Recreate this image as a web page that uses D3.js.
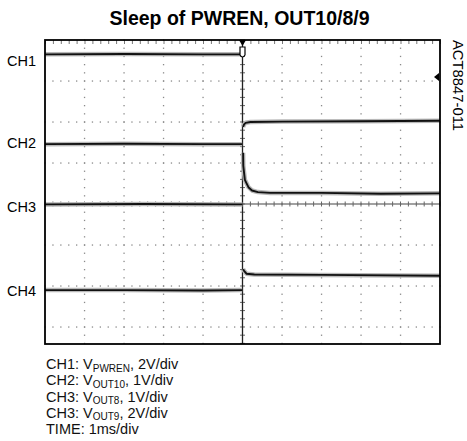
<!DOCTYPE html>
<html>
<head>
<meta charset="utf-8">
<script src="https://cdn.jsdelivr.net/npm/d3@7/dist/d3.min.js"></script>
<style>
body{ margin:0; background:#fff; }
svg{ display:block; font-family:"Liberation Sans", Arial, sans-serif; }
</style>
</head>
<body>
<div id="scope"></div>
<script>
// all values are in scope divisions: time 0..10, volts with 0 on the centre line
const title = "Sleep of PWREN, OUT10/8/9";
const partNumber = "ACT8847-011";

const timeDivs = [0, 1, 2, 3, 4, 5, 6, 7, 8, 9, 10];
const voltDivs = [4, 3, 2, 1, 0, -1, -2, -3];

const channelNames = ["CH1", "CH2", "CH3", "CH4"];
const channelLevels = [3.5, 1.49, -0.07, -2.11];

// traces, null = fast edge the scope does not show
const ch1 = [[0, 3.65], [2, 3.66], [4, 3.65], [4.99, 3.65], [5.0, null], [5.015, 1.88], [5.04, 1.94], [5.08, 1.98], [5.2, 2.0], [6, 2.01], [8, 2.02], [10, 2.03]];
const ch2 = [[0, 1.46], [2, 1.47], [4, 1.46], [4.99, 1.46], [5.0, null], [5.015, 1.25], [5.02, 0.93], [5.06, 0.59], [5.15, 0.41], [5.24, 0.33], [5.39, 0.29], [5.7, 0.27], [7, 0.27], [8.5, 0.25], [10, 0.26]];
const ch3 = [[0, -0.01], [2.5, 0.0], [5.0, -0.01]];
const ch4 = [[0, -2.1], [2, -2.1], [4, -2.11], [4.99, -2.1], [5.0, null], [5.015, -1.59], [5.04, -1.63], [5.1, -1.7], [5.3, -1.72], [7, -1.73], [10, -1.75]];
const traces = [ch1, ch2, ch3, ch4];

const triggerTime = 5;
const triggerLevel = 3.1;

const legendLines = [
    ["CH1: V", "PWREN", ", 2V/div"],
    ["CH2: V", "OUT10", ", 1V/div"],
    ["CH3: V", "OUT8", ", 1V/div"],
    ["CH3: V", "OUT9", ", 2V/div"],
    ["TIME: 1ms/div", "", ""]
];

const width = 467, height = 441;

const svg = d3.select("#scope").append("svg")
    .attr("width", width)
    .attr("height", height);

const x = d3.scaleLinear().domain([0, 10]).range([45, 440]);
const y = d3.scaleLinear().domain([4, -3.415]).range([40, 344]);

const minorT = d3.range(0, 10.001, 0.2);
const minorV = d3.range(4, -3.42, -0.2);

// title
svg.append("text")
    .attr("x", 239.5)
    .attr("y", 25)
    .attr("text-anchor", "middle")
    .attr("font-size", 19.5)
    .attr("font-weight", "bold")
    .text(title);

// part number on the right
svg.append("text")
    .attr("transform", "translate(453,40) rotate(90)")
    .attr("font-size", 14.8)
    .text(partNumber);

// dotted grid
const grid = svg.append("g");

voltDivs.filter(v => v !== 4 && v !== 0).forEach(v => {
    grid.selectAll(null)
        .data(minorT)
        .enter().append("rect")
        .attr("x", t => x(t) - 0.6)
        .attr("y", y(v) - 0.6)
        .attr("width", 1.3)
        .attr("height", 1.3)
        .attr("fill", "#8a8a8a");
});

timeDivs.filter(t => t !== 0 && t !== 5 && t !== 10).forEach(t => {
    grid.selectAll(null)
        .data(minorV)
        .enter().append("rect")
        .attr("x", x(t) - 0.6)
        .attr("y", v => y(v) - 0.6)
        .attr("width", 1.3)
        .attr("height", 1.3)
        .attr("fill", "#8a8a8a");
});

// ticks under the top edge
svg.append("g")
    .attr("transform", "translate(0," + y(4) + ")")
    .call(d3.axisBottom(x).tickValues(minorT).tickSize(4).tickFormat(""))
    .call(g => g.select(".domain").remove())
    .call(g => g.selectAll("line").attr("stroke", "#777"));

// centre axes with small ticks
const centre = svg.append("g");

centre.append("line")
    .attr("x1", x(0)).attr("x2", x(10))
    .attr("y1", y(0)).attr("y2", y(0))
    .attr("stroke", "#444").attr("stroke-width", 1.1);

centre.selectAll(".htick")
    .data(minorT)
    .enter().append("line")
    .attr("class", "htick")
    .attr("x1", t => x(t)).attr("x2", t => x(t))
    .attr("y1", y(0) - 2.5).attr("y2", y(0) + 2.5)
    .attr("stroke", "#666");

centre.selectAll(".vtick")
    .data(minorV)
    .enter().append("line")
    .attr("class", "vtick")
    .attr("x1", x(triggerTime) - 2.5).attr("x2", x(triggerTime) + 2.5)
    .attr("y1", v => y(v)).attr("y2", v => y(v))
    .attr("stroke", "#666");

// traces: grey noise band under a black line
const line = d3.line()
    .defined(d => d[1] !== null)
    .x(d => x(d[0]))
    .y(d => y(d[1]));

const traceGroup = svg.append("g");

traceGroup.selectAll(".halo")
    .data(traces)
    .enter().append("path")
    .attr("class", "halo")
    .attr("d", line)
    .attr("fill", "none")
    .attr("stroke", "#b8b8b8")
    .attr("stroke-width", 4.5)
    .attr("stroke-linejoin", "round");

traceGroup.selectAll(".trace")
    .data(traces)
    .enter().append("path")
    .attr("class", "trace")
    .attr("d", line)
    .attr("fill", "none")
    .attr("stroke", "#111")
    .attr("stroke-width", 1.9)
    .attr("stroke-linejoin", "round");

// vertical centre line drawn on top
centre.append("line")
    .attr("x1", x(triggerTime)).attr("x2", x(triggerTime))
    .attr("y1", y(4)).attr("y2", y(-3.415))
    .attr("stroke", "#222").attr("stroke-width", 1.3);

// frame
svg.append("rect")
    .attr("x", x(0))
    .attr("y", y(4))
    .attr("width", x(10) - x(0))
    .attr("height", y(-3.415) - y(4))
    .attr("fill", "none")
    .attr("stroke", "#000")
    .attr("stroke-width", 1.8);

// trigger markers
const tx = x(triggerTime);
svg.append("path")
    .attr("d", `M${tx - 3.5},${y(4)} L${tx + 3.5},${y(4)} L${tx},${y(4) + 6} Z`)
    .attr("fill", "#000");

svg.append("path")
    .attr("d", `M${tx - 2.5},${y(4) + 7} L${tx - 2.5},${y(4) + 15} Q${tx},${y(4) + 19} ${tx + 2.5},${y(4) + 15} L${tx + 2.5},${y(4) + 7} Z`)
    .attr("fill", "#fff")
    .attr("stroke", "#000")
    .attr("stroke-width", 1.2);

const ty = y(triggerLevel);
svg.append("path")
    .attr("d", `M${x(10) - 6},${ty} L${x(10) - 1},${ty - 4} L${x(10) - 1},${ty + 4} Z`)
    .attr("fill", "#000");

// channel labels
svg.selectAll(".chlabel")
    .data(channelNames)
    .enter().append("text")
    .attr("class", "chlabel")
    .attr("x", 7)
    .attr("y", (d, i) => y(channelLevels[i]))
    .attr("dy", "0.36em")
    .attr("font-size", 14.5)
    .text(d => d);

// legend below the screen
const legend = svg.append("g");
legendLines.forEach((parts, i) => {
    const t = legend.append("text")
        .attr("x", 46)
        .attr("y", 369 + i * 16.3)
        .attr("font-size", 14.5)
        .attr("fill", "#111");
    t.append("tspan").text(parts[0]);
    if (parts[1]) {
        t.append("tspan").attr("font-size", 10).attr("dy", 2.5).text(parts[1]);
        t.append("tspan").attr("dy", -2.5).text(parts[2]);
    }
});
</script>
</body>
</html>
